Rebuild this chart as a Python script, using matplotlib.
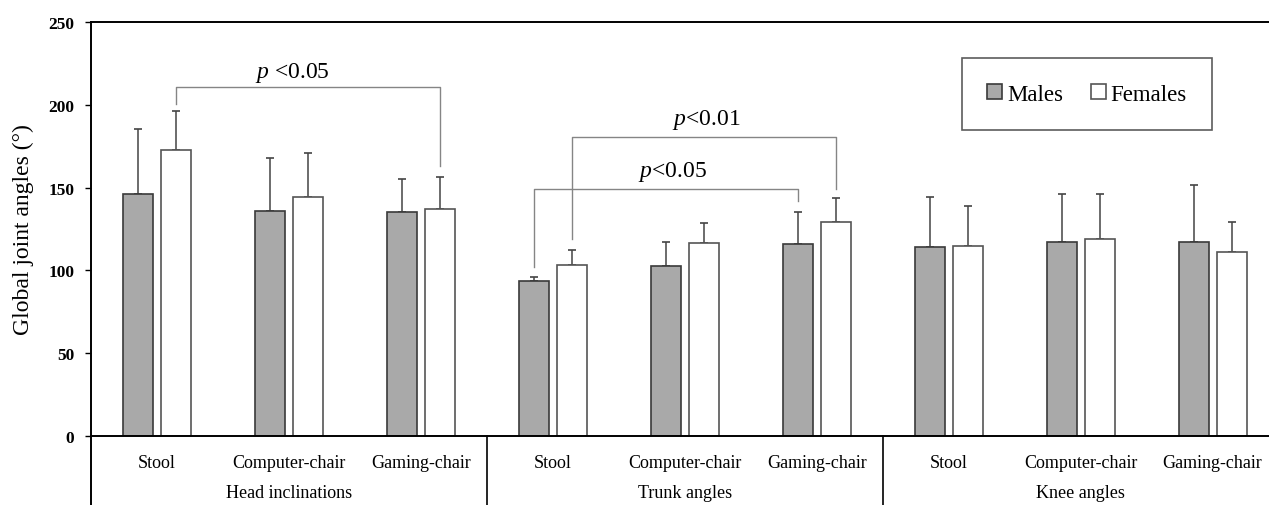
import matplotlib
matplotlib.use('Agg')
import matplotlib.pyplot as plt
import matplotlib.transforms as mtransforms
import numpy as np

plt.rcParams['font.family'] = ['Liberation Serif', 'DejaVu Serif']
plt.rcParams['mathtext.fontset'] = 'custom'
plt.rcParams['mathtext.rm'] = 'Liberation Serif'
plt.rcParams['mathtext.it'] = 'Liberation Serif:italic'

# data
chairs = ['Stool', 'Computer-chair', 'Gaming-chair']
joints = ['Head inclinations', 'Trunk angles', 'Knee angles']
males = [146.2, 135.7, 135.1, 93.4, 102.7, 115.8, 114.0, 117.4, 117.4]
males_sd = [39.3, 32.1, 20.4, 2.6, 14.7, 19.5, 30.2, 28.8, 34.3]
females = [172.8, 144.2, 137.1, 103.5, 116.8, 129.5, 115.0, 119.0, 111.0]
females_sd = [23.8, 26.6, 19.6, 8.7, 12.1, 14.3, 24.1, 27.2, 18.1]

# significance brackets: (group a, series a, group b, series b, top, end a, end b, label, text x, text y)
brackets = [
    (0, 1, 2, 1, 211.1, 200.7, 163.3, r'$p$ <0.05', 1.03, 219.8),
    (3, 0, 5, 0, 149.2, 101.9, 141.8, r'$p$<0.05', 3.91, 160.3),
    (3, 1, 5, 1, 180.5, 119.0, 149.2, r'$p$<0.01', 4.16, 191.6),
]

W, H = 1269, 506
fig = plt.figure(figsize=(W / 100, H / 100), dpi=100)
x0, x1 = 91, 1278.5
y0, y1 = 436.7, 23.3
ax = fig.add_axes([x0 / W, (H - y0) / H, (x1 - x0) / W, (y0 - y1) / H])

x = np.arange(len(males))
off = 0.144
bw = 0.227

ax.bar(x - off, males, bw, color='#a9a9a9', edgecolor='#3a3a3a', linewidth=1.2,
       label='Males', zorder=2)
ax.bar(x + off, females, bw, color='white', edgecolor='#555555', linewidth=1.2,
       label='Females', zorder=2)
ax.errorbar(x - off, males, yerr=[np.zeros(len(males)), males_sd], fmt='none',
            ecolor='#444444', elinewidth=1.1, capsize=3, capthick=1.2, zorder=1)
ax.errorbar(x + off, females, yerr=[np.zeros(len(females)), females_sd], fmt='none',
            ecolor='#444444', elinewidth=1.1, capsize=3, capthick=1.2, zorder=1)

for ga, sa, gb, sb, top, ea, eb, lab, tx, ty in brackets:
    xa = ga + (off if sa else -off)
    xb = gb + (off if sb else -off)
    ax.plot([xa, xa, xb, xb], [ea, top, top, eb], color='#858585', lw=1.0, zorder=3)
    ax.text(tx, ty, lab, ha='center', va='center', fontsize=17)

ax.set_xlim(-0.5, 8.5)
ax.set_ylim(0, 250)
ax.set_yticks(np.arange(0, 251, 50))
ax.tick_params(axis='y', length=4, width=1, pad=8, labelsize=12.5)
for t in ax.get_yticklabels():
    t.set_fontweight('bold')
ax.set_xticks(x, chairs * 3, fontsize=13)
ax.tick_params(axis='x', length=0, pad=13)
ax.set_ylabel('Global joint angles (°)', fontsize=17, labelpad=10)

ax.spines['right'].set_visible(False)
for s in ['left', 'top', 'bottom']:
    ax.spines[s].set_color('black')
    ax.spines[s].set_linewidth(1.4)

# category frame below the axis
trans = mtransforms.blended_transform_factory(ax.transData, ax.transAxes)
ext = -(H - y0) / (y0 - y1) - 0.01
ax.plot([-0.5, -0.5], [0, ext], transform=trans, color='black', lw=1.4, clip_on=False)
for sep in [2.5, 5.5]:
    ax.plot([sep, sep], [0, ext], transform=trans, color='black', lw=1.2, clip_on=False)
for i, j in enumerate(joints):
    ax.text(3 * i + 1, -(494 - y0) / (y0 - y1), j, transform=trans, ha='center',
            va='center', fontsize=13)

leg = ax.legend(loc='upper left', bbox_to_anchor=((961.7 - x0) / (x1 - x0), (y0 - 59.3) / (y0 - y1)),
                ncol=2, fontsize=16.5, frameon=True, fancybox=False, borderaxespad=0,
                borderpad=1.1, handlelength=0.68, handleheight=0.63, handletextpad=0.2,
                columnspacing=1.2)
leg.get_frame().set_edgecolor('#333333')
leg.get_frame().set_linewidth(1.2)

fig.savefig('out.png', dpi=100)
